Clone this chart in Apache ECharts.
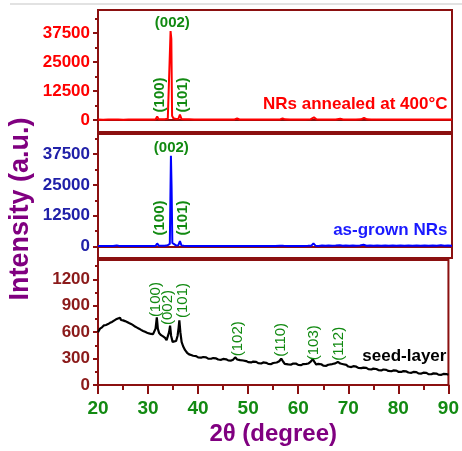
<!DOCTYPE html>
<html>
<head>
<meta charset="utf-8">
<script src="https://cdn.jsdelivr.net/npm/echarts@6/dist/echarts.min.js"></script>
<style>
  html, body { margin: 0; padding: 0; background: #fff; }
  #chart { width: 462px; height: 451px; }
</style>
</head>
<body>
<div id="chart"></div>
<script>
// 2theta (deg) / intensity pairs
const annealed = [
  [20, 150], [21, 120], [22, 180], [23, 140], [24, 160], [25, 130], [26, 170], [27, 150],
  [28, 140], [29, 160], [30, 180], [31, 200], [31.4, 300], [31.7, 1500], [32, 350],
  [32.6, 300], [33.2, 350], [33.8, 500], [34.1, 1300], [34.35, 38300], [34.5, 35000],
  [34.65, 1800], [34.9, 700], [35.4, 450], [35.9, 500], [36.2, 2300], [36.5, 450],
  [37, 300], [38, 250], [39, 200], [40, 220], [41, 180], [42, 200], [43, 190], [44, 210],
  [45, 180], [46, 200], [47, 220], [47.5, 600], [48, 210], [49, 190], [50, 200], [51, 180],
  [52, 200], [53, 190], [54, 200], [55, 210], [56, 240], [56.5, 700], [57, 260], [58, 220],
  [59, 200], [60, 230], [61, 210], [62, 250], [62.7, 1100], [63.2, 300], [64, 220],
  [65, 200], [66, 220], [67, 210], [67.9, 550], [68.5, 230], [69, 210], [70, 200],
  [71, 220], [72, 250], [72.6, 900], [73.2, 260], [74, 210], [75, 200], [76, 190],
  [77, 210], [78, 200], [79, 190], [80, 200], [81, 190], [82, 180], [83, 200], [84, 190],
  [85, 180], [86, 200], [87, 190], [88, 180], [89, 190], [90, 180]
];
const asGrown = [
  [20, 250], [21, 230], [22, 260], [23, 240], [23.7, 500], [24.2, 250], [25, 240], [26, 260],
  [27, 240], [28, 250], [29, 260], [30, 280], [31, 300], [31.4, 350], [31.7, 1300],
  [32, 400], [32.6, 350], [33.2, 400], [33.8, 600], [34.2, 1100], [34.42, 36800],
  [34.55, 24000], [34.7, 1500], [34.9, 700], [35.4, 500], [35.9, 600], [36.2, 2200],
  [36.5, 500], [37, 350], [38, 300], [39, 280], [40, 290], [41, 270], [42, 280], [43, 260],
  [44, 280], [45, 270], [46, 290], [47, 300], [47.3, 650], [47.7, 300], [48, 280], [49, 270],
  [50, 290], [51, 270], [52, 280], [53, 270], [54, 290], [55, 300], [56, 350], [56.3, 750],
  [56.7, 320], [57.5, 290], [58.5, 280], [59.5, 300], [60.5, 290], [61.5, 310], [62.2, 400],
  [62.6, 1300], [63, 400], [63.6, 300], [64.3, 450], [65, 320], [65.6, 480], [66.3, 330],
  [67, 450], [67.8, 600], [68.4, 340], [69, 480], [69.7, 320], [70.4, 470], [71, 330],
  [71.8, 460], [72.5, 750], [73.1, 340], [73.8, 480], [74.5, 320], [75.2, 470], [76, 330],
  [76.8, 460], [77.5, 320], [78.3, 470], [79, 330], [79.8, 450], [80.6, 320], [81.4, 460],
  [82.2, 330], [83, 450], [83.8, 320], [84.6, 460], [85.4, 330], [86.2, 450], [87, 330],
  [87.8, 560], [88.5, 340], [89.2, 450], [90, 330]
];
const seedLayer = [
  [20, 600], [20.2, 618], [20.4, 640], [20.6, 632], [20.8, 655], [21, 660], [21.2, 678],
  [21.4, 664], [21.6, 682], [21.8, 672], [22, 692], [22.2, 684], [22.4, 706], [22.6, 696],
  [22.8, 716], [23, 708], [23.2, 732], [23.4, 722], [23.6, 746], [23.8, 736], [24, 756],
  [24.2, 742], [24.4, 764], [24.6, 738], [24.8, 752], [25, 734], [25.2, 754], [25.4, 726],
  [25.6, 738], [25.8, 716], [26, 726], [26.2, 704], [26.4, 712], [26.6, 694], [26.8, 698],
  [27, 680], [27.2, 686], [27.4, 664], [27.6, 672], [27.8, 652], [28, 656], [28.2, 640],
  [28.4, 646], [28.6, 626], [28.8, 632], [29, 614], [29.2, 622], [29.4, 604], [29.6, 610],
  [29.8, 594], [30, 600], [30.2, 586], [30.4, 594], [30.6, 580], [30.8, 590], [31, 578],
  [31.2, 596], [31.5, 640], [31.75, 768], [31.95, 640], [32.2, 590], [32.4, 572],
  [32.6, 566], [32.8, 548], [33, 552], [33.2, 530], [33.4, 536], [33.7, 508], [34, 530],
  [34.2, 600], [34.4, 675], [34.6, 560], [34.9, 490], [35.2, 478], [35.6, 500], [35.9, 560],
  [36.1, 650], [36.25, 735], [36.45, 600], [36.7, 490], [37, 440], [37.2, 418], [37.4, 396],
  [37.6, 378], [37.8, 366], [38, 352], [38.2, 348], [38.4, 336], [38.6, 340], [38.8, 326],
  [39, 332], [39.3, 320], [39.6, 328], [40, 314], [40.3, 322], [40.6, 310], [41, 318],
  [41.3, 304], [41.6, 314], [42, 300], [42.3, 310], [42.6, 298], [43, 306], [43.3, 294],
  [43.6, 302], [44, 290], [44.3, 300], [44.6, 286], [45, 296], [45.3, 284], [45.6, 292],
  [46, 280], [46.3, 290], [46.6, 278], [47, 288], [47.4, 314], [47.8, 290], [48.1, 272],
  [48.4, 282], [48.7, 268], [49, 278], [49.3, 264], [49.6, 272], [50, 260], [50.3, 270],
  [50.6, 256], [51, 266], [51.3, 252], [51.6, 262], [52, 248], [52.3, 258], [52.6, 244],
  [53, 256], [53.3, 242], [53.6, 252], [54, 240], [54.3, 250], [54.6, 238], [55, 250],
  [55.3, 240], [55.7, 256], [56.2, 270], [56.6, 300], [57, 264], [57.3, 240], [57.6, 250],
  [58, 234], [58.3, 246], [58.6, 232], [59, 244], [59.3, 230], [59.6, 242], [60, 228],
  [60.3, 240], [60.6, 226], [61, 238], [61.3, 226], [61.6, 240], [62, 244], [62.5, 266],
  [62.9, 294], [63.3, 256], [63.6, 232], [64, 240], [64.3, 224], [64.6, 236], [65, 220],
  [65.3, 232], [65.6, 218], [66, 230], [66.3, 222], [66.8, 238], [67.4, 246], [67.9, 262],
  [68.4, 244], [68.7, 226], [69, 236], [69.3, 218], [69.6, 228], [70, 210], [70.3, 220],
  [70.6, 204], [71, 214], [71.3, 198], [71.6, 208], [72, 194], [72.3, 204], [72.6, 192],
  [73, 198], [73.3, 184], [73.6, 194], [74, 180], [74.3, 190], [74.6, 176], [75, 186],
  [75.3, 172], [75.6, 182], [76, 170], [76.3, 180], [76.6, 166], [77, 176], [77.3, 162],
  [77.6, 172], [78, 160], [78.3, 170], [78.6, 156], [79, 166], [79.3, 154], [79.6, 164],
  [80, 150], [80.3, 160], [80.6, 148], [81, 158], [81.3, 144], [81.6, 154], [82, 142],
  [82.3, 152], [82.6, 138], [83, 148], [83.3, 136], [83.6, 146], [84, 132], [84.3, 142],
  [84.6, 130], [85, 140], [85.3, 128], [85.6, 138], [86, 124], [86.3, 134], [86.6, 122],
  [87, 132], [87.3, 120], [87.6, 130], [88, 118], [88.3, 128], [88.6, 116], [89, 126],
  [89.3, 114], [89.6, 124], [90, 116]
];
const xrdMajor = [0, 12500, 25000, 37500];
const xrdMinor = [6250, 18750, 31250, 43750];
const seedMajor = [0, 300, 600, 900, 1200];
const seedMinor = [150, 450, 750, 1050, 1350];

const FONT = 'Liberation Sans, Arial, sans-serif';
const FRAME = '#8b1010';
const GREEN = '#128a12';

function tag(text, x, y, rotate, bold) {
  return {
    coord: [x, y],
    symbol: 'rect',
    symbolSize: 1,
    itemStyle: { color: 'rgba(0,0,0,0)' },
    label: {
      show: true,
      position: 'inside',
      formatter: text,
      rotate: rotate,
      color: GREEN,
      fontFamily: FONT,
      fontSize: 15,
      fontWeight: bold ? 'bold' : 'normal'
    }
  }
}

function sampleName(text, x, y, color) {
  return {
    coord: [x, y],
    symbol: 'rect',
    symbolSize: 1,
    itemStyle: { color: 'rgba(0,0,0,0)' },
    label: {
      show: true,
      position: 'left',
      distance: 0,
      formatter: text,
      color: color,
      fontFamily: FONT,
      fontSize: 17,
      fontWeight: 'bold'
    }
  }
}

function xAxisFor(gridIndex, showLabels) {
  return {
    type: 'value',
    gridIndex: gridIndex,
    min: 20,
    max: 90,
    interval: 10,
    axisLine: { show: true, lineStyle: { color: FRAME, width: 2 } },
    axisTick: { show: showLabels, length: 9, lineStyle: { color: FRAME, width: 2 } },
    minorTick: { show: showLabels, splitNumber: 2, length: 5, lineStyle: { color: FRAME, width: 2 } },
    splitLine: { show: false },
    axisLabel: {
      show: showLabels,
      margin: 14,
      color: GREEN,
      fontFamily: FONT,
      fontSize: 19,
      fontWeight: 'bold'
    },
    name: showLabels ? '2θ (degree)' : '',
    nameLocation: 'middle',
    nameGap: 37,
    nameTextStyle: { color: '#800080', fontFamily: FONT, fontSize: 24, fontWeight: 'bold' }
  }
}

function yAxesFor(gridIndex, min, max, major, minor, color) {
  return [{
    type: 'value',
    gridIndex: gridIndex,
    position: 'left',
    min: min,
    max: max,
    axisLine: { show: true, lineStyle: { color: FRAME, width: 2 } },
    axisTick: { show: true, length: 5, customValues: major, lineStyle: { color: FRAME, width: 2 } },
    splitLine: { show: false },
    axisLabel: {
      customValues: major,
      formatter: v => String(v),
      margin: 8,
      color: color,
      fontFamily: FONT,
      fontSize: 17,
      fontWeight: 'bold'
    }
  }, {
    type: 'value',
    gridIndex: gridIndex,
    position: 'left',
    min: min,
    max: max,
    axisLine: { show: false },
    axisTick: { show: true, length: 3, customValues: minor, lineStyle: { color: FRAME, width: 2 } },
    splitLine: { show: false },
    axisLabel: { show: false }
  }]
}

const chart = echarts.init(document.getElementById('chart'), null, { renderer: 'canvas' });

const option = {
  animation: false,
  backgroundColor: '#fff',
  grid: [
    { left: 98, right: 10, top: 10, height: 122, show: true, borderColor: FRAME, borderWidth: 2 },
    { left: 98, right: 10, top: 134, height: 124, show: true, borderColor: FRAME, borderWidth: 2 },
    { left: 98, right: 10, top: 260, height: 125, show: true, borderColor: FRAME, borderWidth: 2 }
  ],
  xAxis: [xAxisFor(0, false), xAxisFor(1, false), xAxisFor(2, true)],
  yAxis: [].concat(
    yAxesFor(0, -5200, 47400, xrdMajor, xrdMinor, '#ff0000'),
    yAxesFor(1, -4600, 45600, xrdMajor, xrdMinor, '#2020a8'),
    yAxesFor(2, 0, 1420, seedMajor, seedMinor, '#8b1a1a')
  ),
  graphic: [
    {
      type: 'line',
      shape: { x1: 10, y1: 4, x2: 462, y2: 4 },
      style: { stroke: '#e2e2e2', lineWidth: 2 }
    },
    {
      type: 'text',
      x: 21,
      y: 209,
      rotation: Math.PI / 2,
      style: {
        text: 'Intensity (a.u.)',
        fill: '#800080',
        font: 'bold 27px ' + FONT,
        align: 'center',
        verticalAlign: 'middle'
      }
    }
  ],
  series: [
    {
      name: 'NRs annealed at 400°C',
      type: 'line',
      xAxisIndex: 0,
      yAxisIndex: 0,
      data: annealed,
      showSymbol: false,
      lineStyle: { color: '#ff0000', width: 2 },
      markPoint: {
        data: [
          tag('(002)', 34.7, 41900, 0, true),
          tag('(100)', 32.3, 10800, 90, true),
          tag('(101)', 36.75, 10800, 90, true),
          sampleName('NRs annealed at 400°C', 89.2, 6700, '#ff0000')
        ]
      }
    },
    {
      name: 'as-grown NRs',
      type: 'line',
      xAxisIndex: 1,
      yAxisIndex: 2,
      data: asGrown,
      showSymbol: false,
      lineStyle: { color: '#0000ff', width: 2 },
      markPoint: {
        data: [
          tag('(002)', 34.5, 39800, 0, true),
          tag('(100)', 32.2, 11600, 90, true),
          tag('(101)', 36.75, 11600, 90, true),
          sampleName('as-grown NRs', 89.2, 6800, '#1a1aff')
        ]
      }
    },
    {
      name: 'seed-layer',
      type: 'line',
      xAxisIndex: 2,
      yAxisIndex: 4,
      data: seedLayer,
      showSymbol: false,
      lineStyle: { color: '#000000', width: 2.2 },
      markPoint: {
        data: [
          tag('(100)', 31.6, 970, 90, false),
          tag('(002)', 33.9, 880, 90, false),
          tag('(101)', 37.0, 960, 90, false),
          tag('(102)', 47.9, 525, 90, false),
          tag('(110)', 56.6, 513, 90, false),
          tag('(103)', 63.1, 480, 90, false),
          tag('(112)', 68.2, 468, 90, false),
          sampleName('seed-layer', 89.7, 322, '#000000')
        ]
      }
    }
  ]
};

chart.setOption(option);
</script>
</body>
</html>
